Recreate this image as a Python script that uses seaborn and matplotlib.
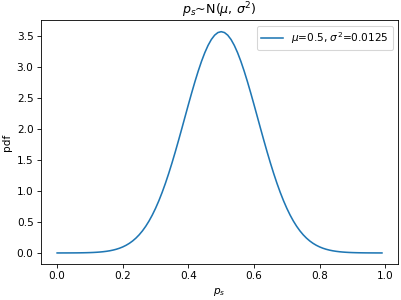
import matplotlib
matplotlib.use("Agg")
import matplotlib.pyplot as plt
import seaborn as sns
import pandas as pd

# x positions and pdf values
ps = [0.00, 0.01, 0.02, 0.03, 0.04, 0.05, 0.06, 0.07, 0.08, 0.09,
      0.10, 0.11, 0.12, 0.13, 0.14, 0.15, 0.16, 0.17, 0.18, 0.19,
      0.20, 0.21, 0.22, 0.23, 0.24, 0.25, 0.26, 0.27, 0.28, 0.29,
      0.30, 0.31, 0.32, 0.33, 0.34, 0.35, 0.36, 0.37, 0.38, 0.39,
      0.40, 0.41, 0.42, 0.43, 0.44, 0.45, 0.46, 0.47, 0.48, 0.49,
      0.50, 0.51, 0.52, 0.53, 0.54, 0.55, 0.56, 0.57, 0.58, 0.59,
      0.60, 0.61, 0.62, 0.63, 0.64, 0.65, 0.66, 0.67, 0.68, 0.69,
      0.70, 0.71, 0.72, 0.73, 0.74, 0.75, 0.76, 0.77, 0.78, 0.79,
      0.80, 0.81, 0.82, 0.83, 0.84, 0.85, 0.86, 0.87, 0.88, 0.89,
      0.90, 0.91, 0.92, 0.93, 0.94, 0.95, 0.96, 0.97, 0.98, 0.99]
pdf = [0.0002, 0.0002, 0.0004, 0.0005, 0.0008, 0.0011, 0.0015, 0.0022, 0.0031, 0.0043,
       0.0059, 0.0081, 0.0111, 0.0149, 0.0200, 0.0266, 0.0350, 0.0458, 0.0594, 0.0764,
       0.0975, 0.1235, 0.1551, 0.1933, 0.2389, 0.2929, 0.3563, 0.4300, 0.5148, 0.6115,
       0.7204, 0.8420, 0.9763, 1.1230, 1.2816, 1.4507, 1.6292, 1.8150, 2.0058, 2.1991,
       2.3918, 2.5807, 2.7623, 2.9331, 3.0897, 3.2287, 3.3470, 3.4420, 3.5116, 3.5540,
       3.5682, 3.5540, 3.5116, 3.4420, 3.3470, 3.2287, 3.0897, 2.9331, 2.7623, 2.5807,
       2.3918, 2.1991, 2.0058, 1.8150, 1.6292, 1.4507, 1.2816, 1.1230, 0.9763, 0.8420,
       0.7204, 0.6115, 0.5148, 0.4300, 0.3563, 0.2929, 0.2389, 0.1933, 0.1551, 0.1235,
       0.0975, 0.0764, 0.0594, 0.0458, 0.0350, 0.0266, 0.0200, 0.0149, 0.0111, 0.0081,
       0.0059, 0.0043, 0.0031, 0.0022, 0.0015, 0.0011, 0.0008, 0.0005, 0.0004, 0.0002]
series_label = r"$\mu$=0.5, $\sigma^2$=0.0125"
y_ticks = [0.0, 0.5, 1.0, 1.5, 2.0, 2.5, 3.0, 3.5]
x_ticks = [0.0, 0.2, 0.4, 0.6, 0.8, 1.0]

df = pd.DataFrame({"ps": ps, "pdf": pdf})

DPI = 76
fig, ax = plt.subplots(figsize=(401 / DPI, 300 / DPI), dpi=DPI)
sns.lineplot(data=df, x="ps", y="pdf", ax=ax, color="#1f77b4", label=series_label)
ax.set_title(r"$p_s$~N($\mu$, $\sigma^2$)")
ax.set_xlabel(r"$p_s$")
ax.set_ylabel("pdf")
ax.set_yticks(y_ticks)
ax.set_yticklabels([f"{v:.1f}" for v in y_ticks])
ax.set_xticks(x_ticks)
ax.set_xticklabels([f"{v:.1f}" for v in x_ticks])
ax.set_ylim(-0.178, 3.75)
ax.legend(loc="upper right")
fig.subplots_adjust(left=0.102, right=0.993, top=0.932, bottom=0.12)
fig.savefig("out.png", dpi=DPI)
